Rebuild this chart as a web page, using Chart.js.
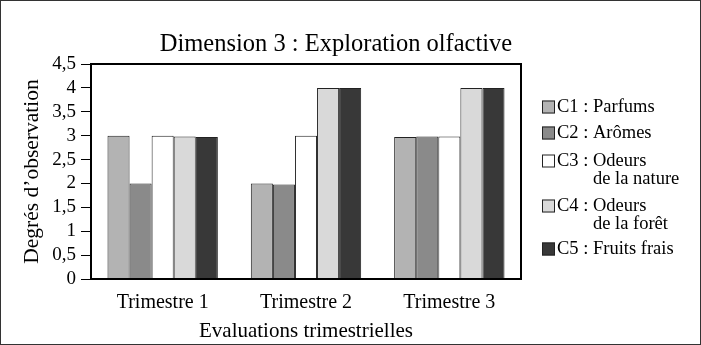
<!DOCTYPE html>
<html><head><meta charset="utf-8">
<script src="https://cdn.jsdelivr.net/npm/chart.js@4/dist/chart.umd.min.js"></script>
<style>html,body{margin:0;padding:0;background:#fff}#wrap{position:relative;width:701px;height:345px}</style>
</head><body><div id="wrap"><canvas id="c" width="701" height="345"></canvas></div>
<script>
const categories = ['Trimestre 1', 'Trimestre 2', 'Trimestre 3'];
const seriesNames = ['C1 : Parfums', 'C2 : Arômes', 'C3 : Odeurs de la nature', 'C4 : Odeurs de la forêt', 'C5 : Fruits frais'];
const legendLines = [['C1 : ', 'Parfums'], ['C2 : ', 'Arômes'], ['C3 : ', 'Odeurs', 'de la nature'], ['C4 : ', 'Odeurs', 'de la forêt'], ['C5 : ', 'Fruits frais']];
const c1 = [3.0, 2.0, 2.97];
const c2 = [2.0, 1.98, 2.98];
const c3 = [3.0, 3.0, 2.98];
const c4 = [2.98, 4.0, 4.0];
const c5 = [2.97, 4.0, 4.0];
const yTicks = ['0','0,5','1','1,5','2','2,5','3','3,5','4','4,5'];
const chartTitle = 'Dimension 3 : Exploration olfactive';
const colors = ['#b3b3b3', '#8a8a8a', '#ffffff', '#d9d9d9', '#383838'];
const SERIF = '"Liberation Serif", "Times New Roman", serif';

const frame = {
  id: 'frame',
  afterDraw(chart) {
    const ctx = chart.ctx, a = chart.chartArea;
    ctx.save();
    ctx.strokeStyle = '#000'; ctx.lineWidth = 2;
    ctx.strokeRect(a.left, a.top, a.right - a.left, a.bottom - a.top);
    ctx.strokeStyle = '#333'; ctx.lineWidth = 1;
    ctx.strokeRect(0.5, 0.5, chart.width - 1, chart.height - 1);
    // title
    ctx.fillStyle = '#000';
    ctx.font = '24.5px ' + SERIF;
    ctx.textAlign = 'center'; ctx.textBaseline = 'middle';
    ctx.fillText(chartTitle, 336, 45);
    // legend
    const rows = [107, 133, 161, 206, 249];
    ctx.font = '18.5px ' + SERIF;
    ctx.textAlign = 'left';
    legendLines.forEach((parts, i) => {
      const y = rows[i];
      ctx.fillStyle = colors[i];
      ctx.fillRect(542, y - 6.5, 13, 13);
      ctx.strokeStyle = '#222'; ctx.lineWidth = 1;
      ctx.strokeRect(542.5, y - 6, 12, 12);
      ctx.fillStyle = '#000';
      const x0 = 557;
      ctx.fillText(parts[0] + parts[1], x0, y);
      if (parts[2]) {
        const w = ctx.measureText(parts[0]).width;
        ctx.fillText(parts[2], x0 + w, y + 18);
      }
    });
    ctx.restore();
  }
};

const dsData = [c1, c2, c3, c4, c5];
new Chart(document.getElementById('c'), {
  type: 'bar',
  data: {
    labels: categories,
    datasets: dsData.map((d, i) => ({
      label: seriesNames[i], data: d, backgroundColor: colors[i],
      borderColor: '#222', borderWidth: 1,
      categoryPercentage: 0.77, barPercentage: 1
    }))
  },
  options: {
    responsive: false, animation: false,
    layout: { padding: { left: 0, right: 180, top: 64, bottom: 0 } },
    plugins: {
      legend: { display: false },
      tooltip: { enabled: false },
      title: { display: false }
    },
    scales: {
      x: {
        grid: { display: false, drawTicks: false },
        border: { display: false },
        ticks: { color: '#000', font: { family: SERIF, size: 20 }, padding: 12 },
        title: { display: true, text: 'Evaluations trimestrielles', color: '#000',
          font: { family: SERIF, size: 21 }, padding: { top: 0, bottom: 1 } },
        afterFit(s) { s.height = 66; }
      },
      y: {
        min: 0, max: 4.5,
        grid: { drawOnChartArea: false, drawTicks: true, tickLength: 10, color: '#000', tickColor: '#000' },
        border: { display: true, color: '#000', width: 2 },
        ticks: { stepSize: 0.5, autoSkip: false, color: '#000', font: { family: SERIF, size: 19 }, padding: 5,
          callback: (v, i) => yTicks[i] },
        title: { display: true, text: 'Degrés d\u2019observation', color: '#000',
          font: { family: SERIF, size: 21.5 }, padding: { top: 19, bottom: 0 } },
        afterFit(s) { s.width = 91; }
      }
    }
  },
  plugins: [frame]
});
</script></body></html>
